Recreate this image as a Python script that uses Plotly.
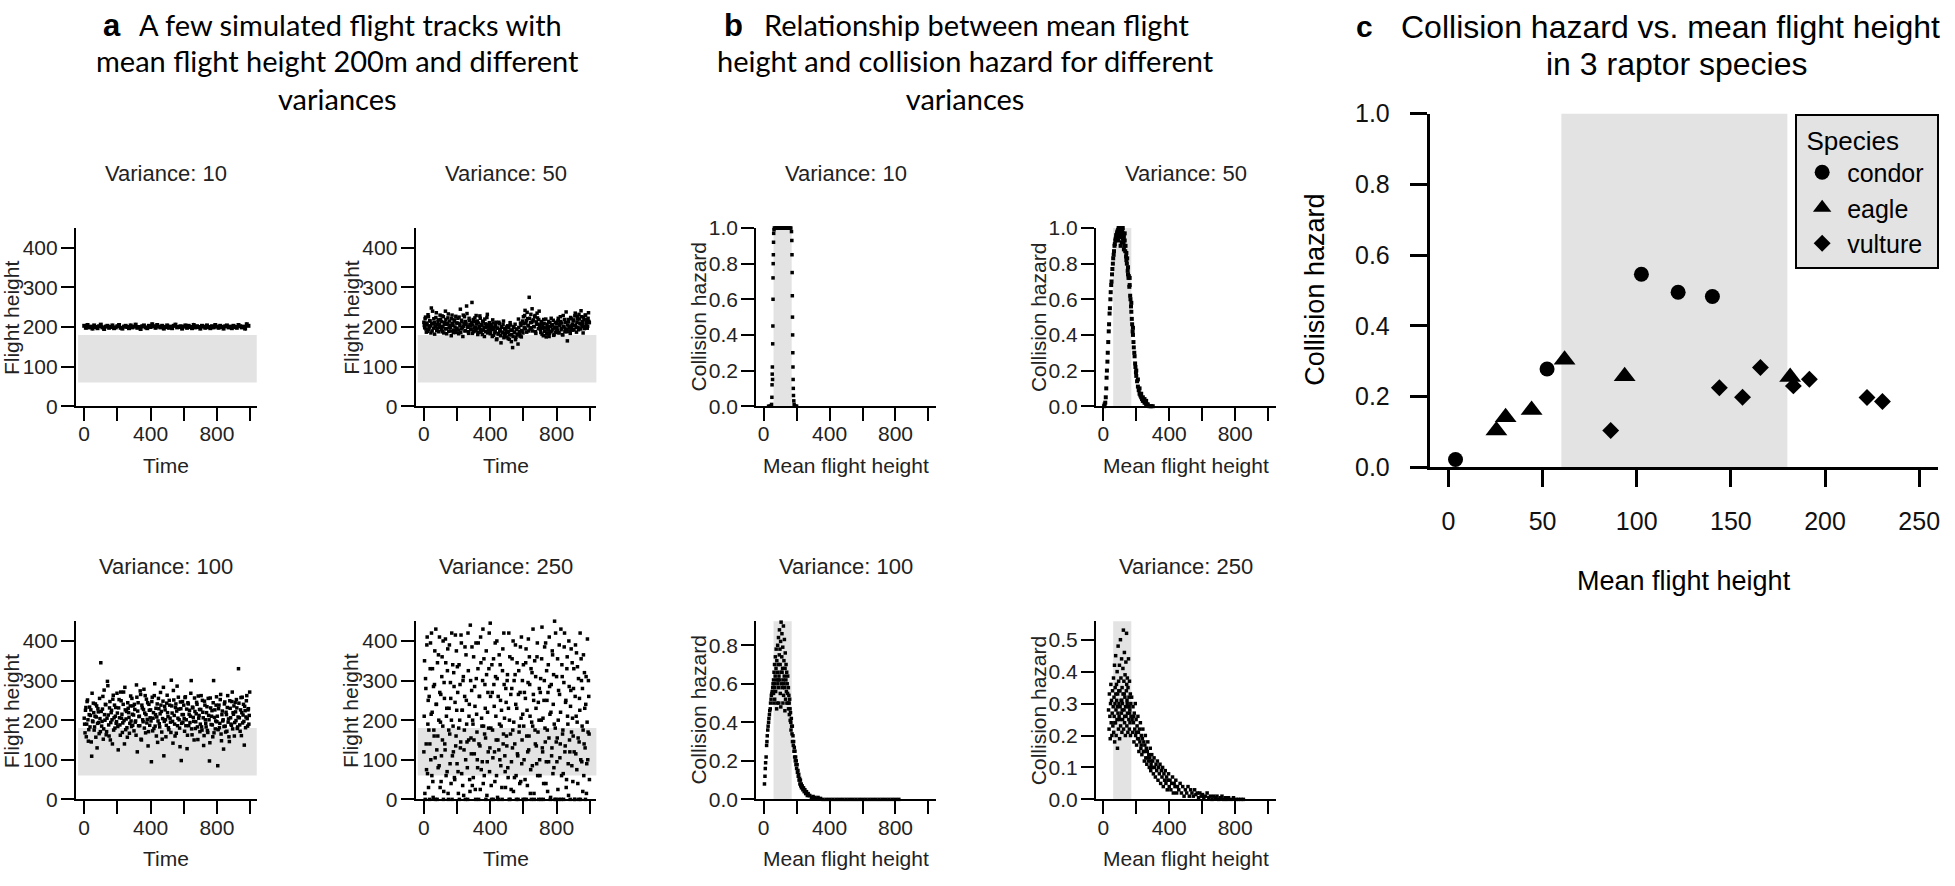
import plotly.graph_objects as go

W, H = 1955, 886

# ---------------- data ----------------
# (a) simulated flight tracks, one value per time step
height_var10 = [203,198,205,199,201,196,204,200,197,202,206,199,195,201,203,198,200,204,197,199,
                202,205,198,196,201,203,200,197,204,199,201,206,198,200,195,202,204,199,197,203,
                200,207,202,198,205,201,199,203,196,200,204,198,201,197,203,206,199,200,202,196,
                201,204,198,203,200,197,205,199,202,200,196,203,201,198,204,200,197,202,199,205,
                201,198,203,200,196,202,204,199,201,197,203,200,198,205,202,199,201,196,207,203]
height_var50 = [212,198,225,187,205,231,194,216,203,248,190,209,221,182,200,236,197,214,188,206,
                219,193,228,201,185,211,240,196,207,223,189,215,199,178,230,204,192,218,186,210,
                197,222,183,208,245,195,213,176,202,226,191,207,234,199,184,216,203,193,262,205,
                188,214,200,229,195,181,210,198,222,187,204,215,192,176,208,199,224,185,201,211,
                183,206,194,218,179,200,189,212,170,197,184,208,193,160,201,187,215,178,196,190,
                175,203,188,169,211,192,181,148,199,186,207,174,195,182,220,189,177,204,191,215,
                226,198,242,210,187,221,203,275,195,232,212,190,218,201,229,184,207,223,196,240,
                205,186,214,197,178,209,190,220,183,201,193,176,211,188,204,195,217,181,199,186,
                208,192,222,185,203,214,196,181,229,200,188,211,194,165,219,202,189,224,198,207,
                215,193,228,204,187,220,199,232,210,195,226,206,185,218,201,230,211,197,222,214]
height_var50_mid = [204,221,195,210,189,226,200,215,185,208,240,197,212,203,224,191,206,218,199,230,
                    201,214,188,226,207,195,219,183,210,233,198,205,190,221,209,186,215,200,227,194,
                    210,192,225,203,186,217,199,230,208,190,214,253,201,188,222,206,195,211,184,219,
                    197,223,190,208,215,186,201,228,194,206,181,213,199,220,188,205,232,192,207,196,
                    189,201,176,210,194,185,204,168,197,182,212,190,178,199,186,207,173,195,183,200,
                    186,171,198,180,205,163,192,176,201,187,168,194,180,157,199,183,210,175,190,185,
                    208,229,195,216,237,204,190,222,211,198,246,215,201,226,188,213,235,207,219,200,
                    194,210,182,203,219,189,198,175,207,192,214,184,201,222,190,206,179,197,212,188,
                    199,215,186,207,226,193,210,180,201,219,195,238,188,205,213,197,184,221,203,192,
                    218,204,235,199,212,227,193,220,208,241,201,214,225,196,230,207,219,202,236,211]
height_var100 = [205,168,232,190,251,147,214,183,226,109,198,243,175,210,157,236,192,221,166,204,
                 345,185,228,152,276,200,239,171,298,213,160,247,194,225,140,263,206,180,232,196,
                 218,125,252,188,271,205,169,240,199,283,176,222,157,230,207,192,261,184,215,236,
                 173,227,198,289,120,244,209,186,265,150,231,196,278,218,168,253,202,135,240,187,
                 226,95,258,205,179,292,214,160,241,198,229,183,270,222,152,248,110,235,201,187,
                 263,209,176,238,195,301,218,142,251,190,232,167,286,205,228,180,246,98,214,195,
                 238,172,259,201,128,244,186,225,210,300,163,231,197,256,179,216,240,151,205,227,
                 190,262,175,220,136,248,201,183,234,169,212,97,256,189,224,158,300,207,178,238,
                 196,85,229,181,252,165,214,198,127,241,185,220,172,262,203,146,230,190,247,178,
                 215,160,245,199,231,183,330,206,172,257,219,193,240,137,224,208,262,185,229,212]
height_var100_mid = [190,225,158,247,201,176,233,212,145,268,196,219,183,241,208,130,229,194,255,171,
                     222,197,260,178,214,240,163,205,287,188,231,150,219,201,253,175,238,210,192,268,
                     184,231,206,162,249,215,193,271,140,226,203,181,244,219,167,236,198,255,187,213,
                     240,195,162,258,223,186,210,274,152,238,201,227,180,262,214,193,244,171,225,206,
                     198,247,173,219,262,185,230,208,144,255,191,216,238,170,204,283,197,226,158,243,
                     219,181,250,205,169,236,197,275,212,160,241,223,186,258,201,133,229,192,247,214,
                     204,257,186,228,162,241,215,194,268,178,233,207,150,222,196,245,183,261,212,171,
                     227,183,250,206,161,238,192,219,174,255,201,143,231,210,188,244,168,226,198,259,
                     210,176,238,192,265,148,223,201,184,246,170,214,232,195,158,249,206,187,271,219,
                     236,194,221,252,179,208,243,188,226,161,258,213,197,235,181,249,204,226,190,271]
height_var250 = [120,350,0,280,75,410,190,30,260,140,395,215,60,330,5,175,290,105,430,240,0,160,365,85,270,
                 195,45,310,150,400,20,255,125,345,210,70,380,0,230,165,295,40,420,110,185,320,55,245,135,375,
                 90,270,15,340,200,130,415,65,225,300,10,175,385,100,250,145,0,325,210,50,440,155,275,35,190,
                 360,115,235,0,305,170,80,395,140,260,25,345,205,95,430,185,60,290,155,375,10,220,120,330,70,
                 445,180,0,270,105,355,235,45,310,150,400,5,260,125,190,340,85,225,0,380,165,290,110,30,245,
                 135,315,55,420,200,0,265,95,355,175,20,300,140,390,60,230,115,0,325,185,270,45,410,150,215,
                 340,100,0,255,380,160,35,295,125,360,210,75,0,320,185,265,15,350,140,230,90,395,170,0,280,
                 60,305,200,435,120,0,250,385,145,40,325,175,270,95,410,215,5,290,130,365,240,80,450,180,0,
                 310,155,25,275,390,105,220,0,340,165,65,295,420,135,250,50,360,190,10,285,120,235,380,85,205,
                 160,330,0,260,115,370,195,40,305,145,225,0,355,95,280,175,60,320,130,240,15,195,100,300,165]
height_var250_mid = [210,15,305,140,390,65,250,175,0,330,100,420,220,45,285,160,375,0,240,125,345,80,200,410,30,
                     265,110,360,185,0,295,140,405,60,230,325,15,175,390,90,255,200,0,340,120,285,50,415,160,225,
                     335,70,180,0,290,145,395,225,35,310,125,260,0,365,190,80,420,150,240,20,300,115,385,200,55,
                     150,285,25,395,215,100,330,0,260,135,410,75,185,300,40,355,165,230,0,315,95,270,180,420,130,
                     260,35,340,175,0,290,120,395,210,60,305,150,0,365,100,250,185,30,325,140,420,205,70,280,160,
                     300,80,230,0,360,165,25,280,130,400,195,55,315,240,0,345,110,265,170,40,385,205,90,300,0,
                     185,270,50,345,0,225,120,405,160,290,15,330,195,85,430,250,0,175,310,135,360,60,245,200,100,
                     270,0,355,130,205,40,300,180,395,95,250,20,340,155,285,0,220,110,375,65,315,190,0,420,145,
                     95,355,200,0,265,140,430,60,310,175,0,385,120,245,30,330,210,90,400,150,0,275,170,345,45,
                     280,120,0,390,210,75,335,155,0,255,420,100,300,185,20,365,140,230,0,310,90,405,170,260,50]
time_var10 = list(range(0, 10 * len(height_var10), 10))
time_var50 = [5 * k for k in range(len(height_var50))] + [5 * k + 2.5 for k in range(len(height_var50_mid))]
time_var100 = [5 * k for k in range(len(height_var100))] + [5 * k + 2.5 for k in range(len(height_var100_mid))]
time_var250 = [4 * k for k in range(len(height_var250))] + [4 * k + 2 for k in range(len(height_var250_mid))]

# (b) collision hazard vs mean flight height: (mean flight height, hazard)
hazard_var10 = [(30,0),(38,0),(44,0),(48,0.01),(50,0.05),(51,0.12),(52,0.18),(53,0.22),(54,0.15),(55,0.35),
                (56,0.45),(57,0.6),(57,0.72),(58,0.8),(59,0.85),(60,0.92),(61,0.97),(63,0.99),
                (65,1),(70,1),(75,1),(80,1),(85,1),(90,1),(95,1),(100,1),(105,1),(110,1),(115,1),(120,1),
                (125,1),(130,1),(135,1),(140,1),(145,1),(150,1),(155,1),(160,1),(165,1),
                (169,0.98),(171,0.93),(172,0.85),(173,0.75),(174,0.62),(175,0.5),(176,0.4),(177,0.3),
                (178,0.22),(179,0.15),(180,0.1),(181,0.06),(183,0.03),(185,0.01),(190,0),(196,0),(200,0)]
hazard_var50 = [(5,0.0),(8,0.01),(12,0.02),(15,0.05),(18,0.1),(20,0.16),(22,0.2),(25,0.25),(27,0.3),(30,0.36),
                (33,0.42),(35,0.46),(38,0.52),(40,0.55),(43,0.6),(45,0.64),(48,0.68),(50,0.7),(53,0.74),(55,0.77),
                (58,0.8),(60,0.83),(63,0.85),(65,0.87),(68,0.9),(70,0.91),(73,0.93),(75,0.94),(78,0.96),(80,0.95),
                (83,0.97),(85,0.98),(88,0.97),(90,0.99),(93,1.0),(95,0.98),(98,1.0),(100,0.97),(103,0.99),(105,0.96),
                (108,1.0),(110,0.98),(113,0.95),(115,0.99),(118,0.94),(120,0.97),(123,0.92),(125,0.95),(128,0.9),(130,0.93),
                (133,0.87),(135,0.9),(138,0.84),(140,0.86),(143,0.8),(145,0.83),(148,0.76),(150,0.78),(153,0.72),(155,0.73),
                (158,0.67),(160,0.68),(163,0.62),(165,0.6),(168,0.56),(170,0.53),(173,0.49),(175,0.46),(178,0.42),(180,0.4),
                (183,0.36),(185,0.33),(188,0.3),(190,0.28),(193,0.24),(195,0.22),(198,0.19),(200,0.17),(205,0.14),(210,0.11),
                (215,0.09),(220,0.07),(225,0.06),(230,0.05),(235,0.04),(240,0.03),(245,0.03),(250,0.02),(255,0.02),(260,0.01),
                (265,0.01),(270,0.01),(280,0.0),(290,0.0),(300,0.0),
                (90,0.93),(100,1.0),(112,0.92),(118,1.0),(125,0.88),(105,0.9),(130,0.97),(95,0.95),(140,0.82),(150,0.74),
                (160,0.72),(170,0.58),(180,0.44),(200,0.2),(210,0.15),(220,0.1),(230,0.07),(240,0.05),(250,0.04),(260,0.03)]
hazard_var100 = [(5,0.08),(8,0.12),(10,0.16),(12,0.19),(15,0.22),(18,0.28),(20,0.3),(22,0.33),(25,0.36),(27,0.38),
                 (30,0.4),(32,0.42),(35,0.44),(37,0.46),(40,0.47),(42,0.5),(45,0.52),(47,0.54),(50,0.55),(52,0.56),
                 (55,0.58),(57,0.6),(60,0.62),(60,0.55),(62,0.5),(63,0.66),(65,0.6),(66,0.7),(68,0.58),(70,0.64),
                 (71,0.74),(73,0.56),(75,0.68),(76,0.78),(78,0.62),(80,0.72),(81,0.5),(83,0.66),(85,0.8),(86,0.6),
                 (88,0.7),(90,0.84),(91,0.58),(93,0.64),(95,0.75),(96,0.88),(98,0.62),(100,0.7),(101,0.55),(103,0.82),
                 (105,0.66),(106,0.92),(108,0.6),(110,0.74),(111,0.86),(113,0.58),(115,0.68),(116,0.79),(118,0.62),(120,0.9),
                 (121,0.54),(123,0.72),(125,0.64),(126,0.83),(128,0.58),(130,0.68),(131,0.76),(133,0.52),(135,0.62),(136,0.7),
                 (138,0.56),(140,0.66),(141,0.5),(143,0.6),(145,0.55),(146,0.64),(148,0.5),(150,0.58),(151,0.47),(153,0.54),
                 (155,0.5),(156,0.44),(158,0.52),(160,0.47),(161,0.41),(163,0.45),(165,0.4),(166,0.36),(168,0.42),(170,0.38),
                 (172,0.34),(174,0.38),(175,0.3),(178,0.33),(180,0.28),(182,0.3),(184,0.25),(186,0.27),(188,0.22),(190,0.25),
                 (192,0.2),(194,0.22),(196,0.18),(198,0.2),(200,0.16),(203,0.18),(205,0.14),(208,0.15),(210,0.12),(213,0.13),
                 (215,0.1),(218,0.11),(220,0.08),(223,0.1),(225,0.07),(228,0.08),(230,0.06),(234,0.07),(238,0.05),(242,0.06),
                 (246,0.04),(250,0.05),(255,0.03),(260,0.04),(265,0.02),(270,0.03),(275,0.02),(280,0.02),(290,0.01),(300,0.015),
                 (310,0.01),(320,0.005),(330,0.01),(345,0.005),(360,0.0),(380,0.0),(400,0.0),(420,0.0),(440,0.0),(460,0.0),
                 (480,0.0),(500,0.0),(520,0.0),(540,0.0),(560,0.0),(580,0.0),(600,0.0),(620,0.0),(640,0.0),(660,0.0),
                 (680,0.0),(700,0.0),(720,0.0),(740,0.0),(760,0.0),(780,0.0),(800,0.0),(820,0.0),
                 (67,0.52),(79,0.47),(92,0.5),(104,0.48),(117,0.5),(129,0.46),(88,0.62),(99,0.78),(112,0.66),(124,0.6)]
hazard_var250 = [(32,0.28),(35,0.22),(37,0.33),(40,0.26),(42,0.19),(44,0.3),(46,0.36),(48,0.24),(50,0.31),(52,0.2),
                 (54,0.27),(56,0.34),(58,0.23),(60,0.29),(62,0.38),(63,0.21),(65,0.32),(66,0.26),(68,0.42),(69,0.18),
                 (71,0.3),(72,0.35),(74,0.24),(75,0.45),(77,0.28),(78,0.2),(80,0.36),(81,0.31),(83,0.25),(84,0.4),
                 (86,0.16),(87,0.33),(89,0.27),(90,0.48),(92,0.22),(93,0.37),(95,0.3),(96,0.26),(98,0.42),(99,0.19),
                 (101,0.34),(102,0.29),(104,0.5),(105,0.23),(107,0.38),(108,0.31),(110,0.27),(111,0.44),(113,0.21),(114,0.35),
                 (116,0.3),(117,0.25),(119,0.41),(120,0.33),(122,0.53),(123,0.22),(125,0.37),(126,0.28),(128,0.46),(129,0.24),
                 (131,0.32),(132,0.39),(134,0.2),(135,0.29),(137,0.43),(138,0.26),(140,0.34),(141,0.52),(143,0.23),(144,0.31),
                 (146,0.38),(147,0.27),(149,0.21),(150,0.35),(152,0.29),(153,0.44),(155,0.25),(156,0.32),(158,0.22),(159,0.37),
                 (161,0.28),(162,0.24),(164,0.33),(165,0.2),(167,0.3),(168,0.26),
                 (172,0.32),(175,0.25),(178,0.21),(180,0.29),(183,0.24),(186,0.18),(188,0.27),(191,0.22),(194,0.3),(196,0.2),
                 (199,0.25),(202,0.17),(205,0.23),(208,0.19),(210,0.26),(213,0.21),(216,0.15),(219,0.22),(222,0.18),(225,0.24),
                 (228,0.16),(231,0.2),(234,0.14),(237,0.19),(240,0.22),(243,0.15),(246,0.18),(249,0.12),(252,0.17),(255,0.2),
                 (258,0.13),(261,0.16),(264,0.11),(267,0.15),(270,0.18),(273,0.12),(276,0.14),(279,0.1),(282,0.13),(285,0.16),
                 (288,0.09),(291,0.12),(294,0.14),(297,0.1),(300,0.12),
                 (304,0.08),(308,0.13),(312,0.1),(316,0.07),(320,0.11),(324,0.09),(328,0.12),(332,0.06),(336,0.1),(340,0.08),
                 (344,0.11),(348,0.05),(352,0.09),(356,0.07),(360,0.1),(364,0.04),(368,0.08),(372,0.06),(376,0.09),(380,0.05),
                 (384,0.07),(388,0.03),(392,0.06),(396,0.08),(400,0.04),(405,0.06),(410,0.03),(415,0.05),(420,0.07),(425,0.02),
                 (430,0.05),(435,0.04),(440,0.06),(445,0.02),(450,0.04),
                 (458,0.03),(466,0.05),(474,0.02),(482,0.04),(490,0.01),(498,0.03),(506,0.02),(514,0.04),(522,0.01),(530,0.03),
                 (538,0.02),(546,0.01),(554,0.03),(562,0.015),(570,0.02),(578,0.005),(586,0.02),(594,0.01),(602,0.015),(610,0.005),
                 (620,0.01),(630,0.02),(640,0.005),(650,0.01),(660,0.0),(670,0.01),(680,0.005),(690,0.01),(700,0.0),(710,0.005),
                 (720,0.01),(730,0.0),(740,0.005),(750,0.0),(760,0.005),(775,0.0),(790,0.005),(805,0.0),(820,0.0),(835,0.0),(850,0.0),
                 (70,0.24),(85,0.29),(100,0.25),(115,0.28),(130,0.26),(145,0.3),(160,0.27),(76,0.33),(94,0.34),(112,0.31),
                 (127,0.33),(142,0.36),(157,0.29),(185,0.26),(200,0.21),(215,0.19),(230,0.17),(250,0.15),(270,0.13),(290,0.11)]

# (c) species data
condor_x = [3.8, 52.4, 102.5, 122.0, 140.2]
condor_y = [0.022, 0.278, 0.546, 0.495, 0.483]
eagle_x = [25.5, 30.4, 44.2, 61.7, 93.6, 181.5]
eagle_y = [0.104, 0.141, 0.162, 0.304, 0.257, 0.255]
vulture_x = [86.2, 143.9, 156.2, 165.7, 183.2, 191.7, 222.3, 230.5]
vulture_y = [0.104, 0.225, 0.198, 0.282, 0.230, 0.249, 0.197, 0.186]

variance_labels = ["Variance: 10", "Variance: 50", "Variance: 100", "Variance: 250"]

# ---------------- layout helpers ----------------
SMALL = "Liberation Sans"
ARIAL = "Liberation Sans"
TITLEF = "Lato"
GREY = "#e3e3e3"


def px_x(px):
    return px / W


def px_y(py):
    return 1 - py / H


def aid(i):
    return "" if i == 1 else str(i)


fig = go.Figure()

# subplot pixel boxes: (left, right, top, bottom)
boxes = {
    1: (76, 257, 221, 405), 2: (416, 597, 221, 405),
    3: (76, 257, 627, 811), 4: (416, 597, 627, 811),
    5: (757, 937, 221, 405), 6: (1097, 1277, 221, 405),
    7: (757, 937, 627, 811), 8: (1097, 1277, 627, 811),
    9: (1431, 1940, 103, 468),
}

dot = dict(symbol="square", size=3.5, color="black", line=dict(width=0))

tracks = [(time_var10, height_var10),
          (time_var50, height_var50 + height_var50_mid),
          (time_var100, height_var100 + height_var100_mid),
          (time_var250, height_var250 + height_var250_mid)]
for k, (tx, ty) in enumerate(tracks):
    i = k + 1
    mk = dict(dot, size=4 if k == 0 else 3.5)
    fig.add_trace(go.Scatter(
        x=tx, y=ty, mode="lines+markers" if k == 0 else "markers",
        line=dict(color="black", width=2.5), marker=mk,
        xaxis="x" + aid(i), yaxis="y" + aid(i), showlegend=False, cliponaxis=False,
        hoverinfo="skip"))

hazards = [hazard_var10, hazard_var50, hazard_var100, hazard_var250]
for k, pts in enumerate(hazards):
    i = k + 5
    mx = [p[0] for p in pts]
    hz = [p[1] for p in pts]
    fig.add_trace(go.Scatter(
        x=mx, y=hz, mode="markers", marker=dict(dot, size=4 if k == 1 else 3.5),
        xaxis="x" + aid(i), yaxis="y" + aid(i), showlegend=False, cliponaxis=False,
        hoverinfo="skip"))

for name, xs, ys, sym, sz in [("condor", condor_x, condor_y, "circle", 15),
                               ("eagle", eagle_x, eagle_y, "triangle-up", 19),
                               ("vulture", vulture_x, vulture_y, "diamond", 13)]:
    fig.add_trace(go.Scatter(
        x=xs, y=ys, mode="markers", name=name,
        marker=dict(symbol=sym, size=sz, color="black", line=dict(width=0)),
        xaxis="x9", yaxis="y9", cliponaxis=False))

layout = {}
axis_common = dict(showline=True, linecolor="black", linewidth=2, ticks="outside",
                   tickcolor="black", tickwidth=2, ticklen=13, showgrid=False,
                   zeroline=False, fixedrange=True)
small_xticks = dict(tickvals=[0, 200, 400, 600, 800, 1000],
                    ticktext=["0", "", "400", "", "800", ""])
for i in range(1, 9):
    l, r, t, b = boxes[i]
    xr = [-50, 1040] if i <= 4 else [-45, 1046]
    layout["xaxis" + aid(i)] = dict(
        axis_common, domain=[px_x(l), px_x(r)], range=xr, anchor="y" + aid(i),
        tickfont=dict(family=SMALL, size=21, color="#222"), ticklabelstandoff=-5,
        **small_xticks)
    if i <= 4:
        yextra = dict(range=[0, 450], tickvals=[0, 100, 200, 300, 400])
    elif i <= 6:
        yextra = dict(range=[0, 1], tickvals=[0, 0.2, 0.4, 0.6, 0.8, 1.0], tickformat=".1f")
    elif i == 7:
        yextra = dict(range=[0, 0.925], tickvals=[0, 0.2, 0.4, 0.6, 0.8], tickformat=".1f")
    else:
        yextra = dict(range=[0, 0.558], tickvals=[0, 0.1, 0.2, 0.3, 0.4, 0.5], tickformat=".1f")
    layout["yaxis" + aid(i)] = dict(
        axis_common, domain=[px_y(b), px_y(t)], anchor="x" + aid(i),
        tickfont=dict(family=SMALL, size=21, color="#222"), ticklabelstandoff=-1,
        **yextra)

l, r, t, b = boxes[9]
layout["xaxis9"] = dict(axis_common, domain=[px_x(l), px_x(r)], range=[-10, 260], anchor="y9",
                        tickvals=[0, 50, 100, 150, 200, 250], ticklen=17, tickwidth=2.5,
                        linewidth=2.5, ticklabelstandoff=13,
                        tickfont=dict(family=ARIAL, size=25, color="#111"))
layout["yaxis9"] = dict(axis_common, domain=[px_y(b), px_y(t)], range=[0, 1], anchor="x9",
                        tickvals=[0, 0.2, 0.4, 0.6, 0.8, 1.0], tickformat=".1f",
                        ticklen=17, tickwidth=2.5, linewidth=2.5, ticklabelstandoff=15,
                        tickfont=dict(family=ARIAL, size=25, color="#111"))

# grey zones
shapes = []
for i in range(1, 5):
    shapes.append(dict(type="rect", xref="x" + aid(i) + " domain", yref="y" + aid(i),
                       x0=0.012, x1=1, y0=60, y1=180, fillcolor=GREY, line=dict(width=0),
                       layer="below"))
for i in range(5, 9):
    shapes.append(dict(type="rect", xref="x" + aid(i), yref="y" + aid(i) + " domain",
                       x0=60, x1=170, y0=0, y1=1, fillcolor=GREY, line=dict(width=0),
                       layer="below"))
shapes.append(dict(type="rect", xref="x9", yref="y9 domain", x0=60, x1=180, y0=0, y1=1,
                   fillcolor=GREY, line=dict(width=0), layer="below"))

annotations = []


def ann(text, x, y, size, family, color="#111", angle=0, xanchor="center", yanchor="middle"):
    annotations.append(dict(text=text, x=px_x(x), y=px_y(y), xref="paper", yref="paper",
                            showarrow=False, textangle=angle, xanchor=xanchor, yanchor=yanchor,
                            font=dict(size=size, family=family, color=color)))


for k in range(4):
    for base in (1, 5):
        i = base + k
        l, r, t, b = boxes[i]
        cx = (l + r) / 2
        cy = (t + b) / 2
        ann(variance_labels[k], cx, t - 56, 22, SMALL, "#222")
        ann("Time" if base == 1 else "Mean flight height", cx, b + 61, 21, SMALL, "#222")
        if base == 1:
            ann("Flight height", l - 65, cy, 21, SMALL, "#222", angle=-90)
        else:
            ann("Collision hazard", l - 58, cy, 21, SMALL, "#222", angle=-90)

# panel titles
ann("<b>a</b>", 112, 12, 31, ARIAL, "#000")
ann("A few simulated flight tracks with", 137, 11, 29, TITLEF, "#000", xanchor="left")
ann("mean flight height 200m and different<br>variances", 338, 68, 29, TITLEF, "#000")
ann("<b>b</b>", 734, 12, 31, ARIAL, "#000")
ann("Relationship between mean flight", 763, 11, 29, TITLEF, "#000", xanchor="left")
ann("height and collision hazard for different<br>variances", 966, 68, 29, TITLEF, "#000")
ann("<b>c</b>", 1366, 13, 30, ARIAL, "#000")
ann("Collision hazard vs. mean flight height", 1400, 13, 32, ARIAL, "#000", xanchor="left")
ann("in 3 raptor species", 1678, 52, 32, ARIAL, "#000")
ann("Collision hazard", 1316, 285, 27, ARIAL, "#000", angle=-90)
ann("Mean flight height", 1686, 586, 27, ARIAL, "#000")

fig.update_layout(
    width=W, height=H, margin=dict(l=0, r=0, t=0, b=0),
    paper_bgcolor="white", plot_bgcolor="white",
    shapes=shapes, annotations=annotations,
    showlegend=True,
    legend=dict(x=px_x(1797), y=px_y(103), xanchor="left", yanchor="top",
                bgcolor=GREY, bordercolor="black", borderwidth=2,
                font=dict(family=ARIAL, size=25, color="#000"),
                title=dict(text="&nbsp;Species&nbsp;&nbsp;&nbsp;&nbsp;&nbsp;",
                           font=dict(family=ARIAL, size=26, color="#000")),
                itemsizing="trace", itemwidth=40, tracegroupgap=0),
    **layout,
)

fig.write_html("out.html", config={"displayModeBar": False},
               post_script="document.body.style.margin='0';document.body.style.overflow='hidden';")
